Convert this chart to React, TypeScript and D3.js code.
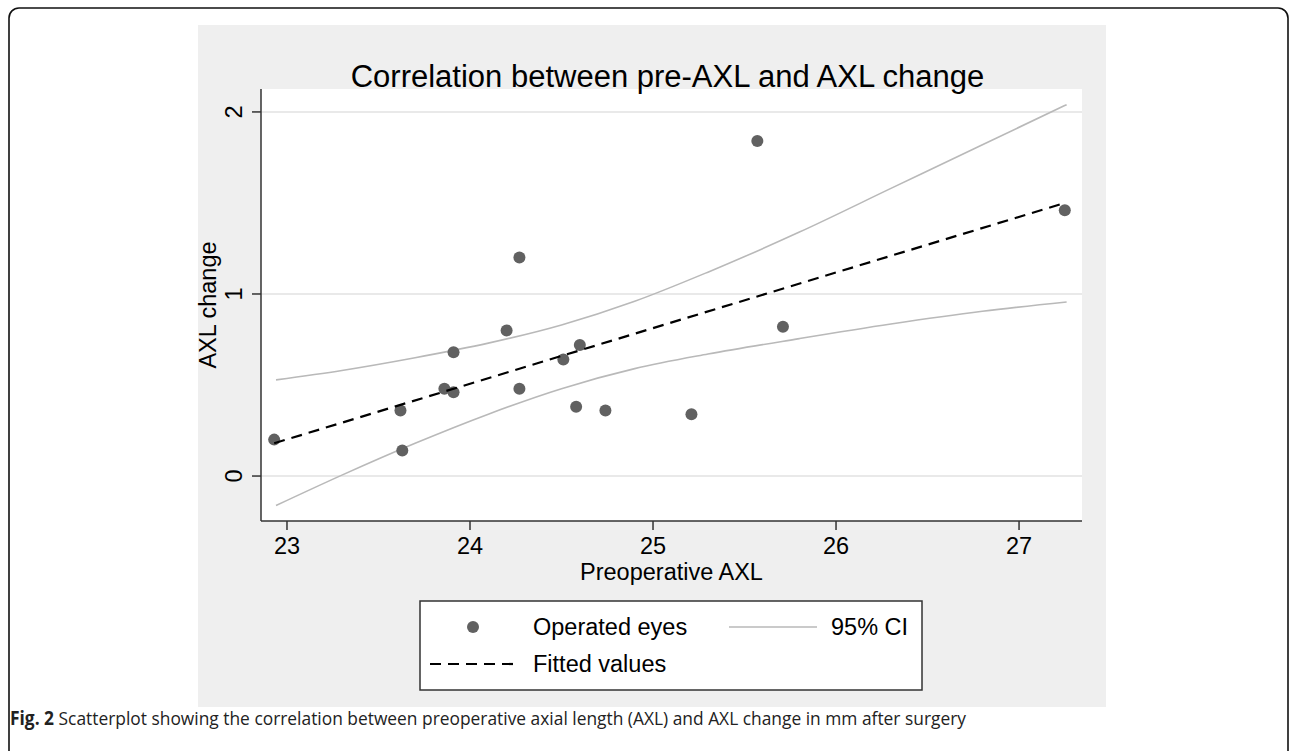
import React from 'react';
import * as d3 from 'd3';

// Observed data (Preoperative AXL, AXL change)
const preAXL = [22.93, 23.62, 23.63, 23.86, 23.91, 23.91, 24.2, 24.27, 24.27, 24.51, 24.6, 24.58, 24.74, 25.21, 25.57, 25.71, 27.25];
const axlChange = [0.2, 0.36, 0.14, 0.48, 0.46, 0.68, 0.8, 1.2, 0.48, 0.64, 0.72, 0.38, 0.36, 0.34, 1.84, 0.82, 1.46];

// Fitted values line
const fitX = [22.93, 27.25];
const fitY = [0.18, 1.5];

// 95% CI band edges
const ciX = [22.94, 23.3, 23.7, 24.1, 24.5, 24.9, 25.3, 25.8, 26.3, 26.8, 27.26];
const ciUpper = [0.528, 0.58, 0.65, 0.73, 0.83, 0.96, 1.12, 1.34, 1.58, 1.82, 2.04];
const ciLower = [-0.162, 0.005, 0.18, 0.34, 0.48, 0.59, 0.67, 0.755, 0.835, 0.905, 0.956];

const xTicks = [23, 24, 25, 26, 27];
const yTicks = [0, 1, 2];

const title = 'Correlation between pre-AXL and AXL change';
const xTitle = 'Preoperative AXL';
const yTitle = 'AXL change';
const legendLabels = ['Operated eyes', '95% CI', 'Fitted values'];
const captionBold = 'Fig. 2';
const captionText = ' Scatterplot showing the correlation between preoperative axial length (AXL) and AXL change in mm after surgery';

export default function App() {
  const W = 1290, H = 751;
  const L = 261, R = 1082, T = 89, B = 521;
  const x = d3.scaleLinear().domain([22.858, 27.344]).range([L, R]);
  const y = d3.scaleLinear().domain([-0.247, 2.126]).range([B, T]);
  const font = '"Liberation Sans", Arial, Helvetica, sans-serif';
  const fs = 23.5;

  const ciLineU = d3.line<number>().x((d, i) => x(ciX[i])).y(d => y(d)).curve(d3.curveMonotoneX);
  const fitLine = d3.line<number>().x((d, i) => x(fitX[i])).y(d => y(d));

  const ciColor = '#b9b9b9';
  const dotColor = '#616161';

  return (
    <svg width={W} height={H} style={{ position: 'absolute', left: 0, top: 0 }} fontFamily={font}>
      <rect x={0} y={0} width={W} height={H} fill="#fff" />
      <rect x={9} y={8} width={1279} height={770} rx={10} ry={10} fill="none" stroke="#111" strokeWidth={1.6} />
      <rect x={198} y={25} width={908} height={682} fill="#efefef" />
      <rect x={L} y={T} width={R - L} height={B - T} fill="#fff" />

      {yTicks.map(t => (
        <line key={'g' + t} x1={L} x2={R} y1={y(t)} y2={y(t)} stroke="#e2e2e2" strokeWidth={1.5} />
      ))}

      <path d={ciLineU(ciUpper) || ''} fill="none" stroke={ciColor} strokeWidth={1.6} />
      <path d={ciLineU(ciLower) || ''} fill="none" stroke={ciColor} strokeWidth={1.6} />

      {preAXL.map((v, i) => (
        <circle key={'p' + i} cx={x(v)} cy={y(axlChange[i])} r={6} fill={dotColor} />
      ))}

      <path d={fitLine(fitY) || ''} fill="none" stroke="#000" strokeWidth={2.2} strokeDasharray="11,7" />

      {/* axes */}
      <line x1={L} x2={L} y1={T} y2={B} stroke="#333" strokeWidth={1.5} />
      <line x1={L} x2={R} y1={B} y2={B} stroke="#333" strokeWidth={1.5} />
      {yTicks.map(t => (
        <g key={'yt' + t}>
          <line x1={L - 9} x2={L} y1={y(t)} y2={y(t)} stroke="#333" strokeWidth={1.5} />
          <text transform={`translate(242,${y(t)}) rotate(-90)`} textAnchor="middle" fontSize={fs} fill="#000">{t}</text>
        </g>
      ))}
      {xTicks.map(t => (
        <g key={'xt' + t}>
          <line x1={x(t)} x2={x(t)} y1={B} y2={B + 9} stroke="#333" strokeWidth={1.5} />
          <text x={x(t)} y={554} textAnchor="middle" fontSize={fs} fill="#000">{t}</text>
        </g>
      ))}

      <text x={(L + R) / 2 - 4} y={87} textAnchor="middle" fontSize={31} fill="#000">{title}</text>
      <text x={(L + R) / 2} y={580} textAnchor="middle" fontSize={fs} fill="#000">{xTitle}</text>
      <text transform={`translate(216,${(T + B) / 2}) rotate(-90)`} textAnchor="middle" fontSize={fs} fill="#000">{yTitle}</text>

      {/* legend */}
      <rect x={420} y={601} width={502} height={89} fill="#fff" stroke="#333" strokeWidth={1.5} />
      <circle cx={473} cy={627} r={6} fill={dotColor} />
      <text x={533} y={635} fontSize={fs} fill="#000">{legendLabels[0]}</text>
      <line x1={729} x2={817} y1={627} y2={627} stroke={ciColor} strokeWidth={1.6} />
      <text x={831} y={635} fontSize={fs} fill="#000">{legendLabels[1]}</text>
      <line x1={430} x2={519} y1={664} y2={664} stroke="#000" strokeWidth={2.2} strokeDasharray="11,7" />
      <text x={533} y={672} fontSize={fs} fill="#000">{legendLabels[2]}</text>

      {/* caption */}
      <text x={10} y={725} fontSize={19} fill="#222" fontFamily='"Open Sans", "Noto Sans", sans-serif' textLength={956} lengthAdjust="spacingAndGlyphs">
        <tspan fontWeight="bold">{captionBold}</tspan>
        <tspan>{captionText}</tspan>
      </text>
    </svg>
  );
}
